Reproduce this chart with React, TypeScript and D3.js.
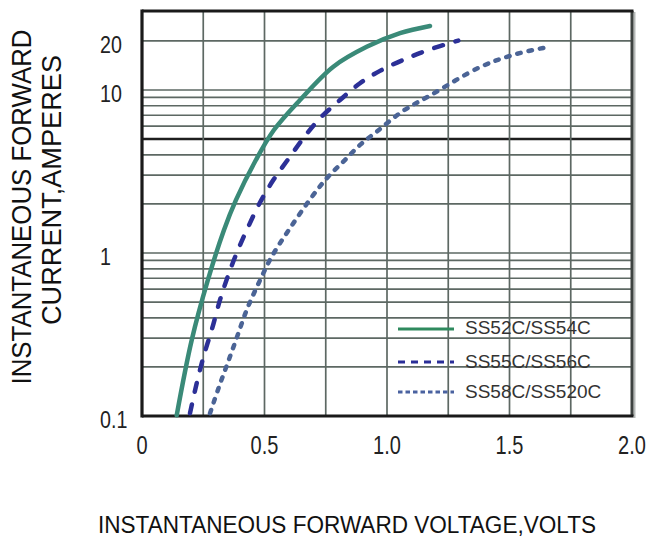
import React from "react";
import * as d3 from "d3";

// ---- data ----
const xTicks = [0, 0.5, 1.0, 1.5, 2.0];
const xTickLabels = ["0", "0.5", "1.0", "1.5", "2.0"];
const xGrid = [0.25, 0.5, 0.75, 1.0, 1.25, 1.5, 1.75];
const yTicks = [0.1, 1, 10, 20];
const yTickLabels = ["0.1", "1", "10", "20"];
const yGrid = [0.2, 0.3, 0.4, 0.5, 0.6, 0.7, 0.8, 0.9, 1, 2, 3, 4, 5, 6, 7, 8, 9, 10, 20];
const yGridBold = [5];

const seriesNames = ["SS52C/SS54C", "SS55C/SS56C", "SS58C/SS520C"];

// volts, amperes
const ss52V = [0.1416, 0.2029, 0.269, 0.3343, 0.3833, 0.4649, 0.5384, 0.6449, 0.7809, 0.9171, 1.0531, 1.1755];
const ss52I = [0.101, 0.292, 0.683, 1.38, 2.11, 3.72, 5.68, 8.68, 13.9, 18.4, 22.3, 24.7];

const ss55V = [0.1959, 0.2233, 0.2531, 0.2845, 0.3184, 0.3498, 0.3865, 0.4273, 0.4816, 0.5359, 0.6041, 0.6653, 0.7265, 0.8082, 0.8898, 0.9714, 1.0665, 1.1686, 1.291];
const ss55I = [0.104, 0.159, 0.237, 0.337, 0.515, 0.716, 1.0, 1.38, 2.04, 2.8, 3.9, 5.22, 6.7, 8.68, 11.0, 13.1, 15.3, 17.6, 20.1];

const ss58V = [0.2776, 0.3143, 0.351, 0.3878, 0.4273, 0.4755, 0.5294, 0.6041, 0.6992, 0.7592, 0.8216, 0.8898, 0.958, 1.0653, 1.1755, 1.3796, 1.5143, 1.6449];
const ss58I = [0.104, 0.151, 0.214, 0.305, 0.447, 0.65, 0.949, 1.42, 2.27, 2.93, 3.63, 4.6, 5.55, 7.43, 9.25, 13.8, 16.4, 18.2];

const FONT = "'Liberation Sans', Arial, sans-serif";

export default function App() {
  const left = 142, right = 632, top = 11, bottom = 416;
  const x = d3.scaleLinear().domain([0, 2]).range([left, right]);
  const y = d3.scaleLog().domain([0.1, 30]).range([bottom, 12.2]);

  const line = d3
    .line<[number, number]>()
    .x((d) => x(d[0]))
    .y((d) => y(d[1]))
    .curve(d3.curveCatmullRom.alpha(0.5));

  const zip = (a: number[], b: number[]) => a.map((v, i) => [v, b[i]] as [number, number]);

  const series = [
    { name: seriesNames[0], d: zip(ss52V, ss52I), color: "#3a8a78", legendColor: "#2f8a5e", dash: undefined, legendDash: undefined },
    { name: seriesNames[1], d: zip(ss55V, ss55I), color: "#2c3097", legendColor: "#2a2e98", dash: "9 13", legendDash: "7 6" },
    { name: seriesNames[2], d: zip(ss58V, ss58I), color: "#4b6496", legendColor: "#4a62a0", dash: "3.5 8", legendDash: "4.5 3" },
  ];

  const legendY = [329, 362, 392];
  const legendTextY = [334, 368, 398];

  return (
    <svg width={648} height={538} style={{ position: "absolute", left: 0, top: 0, background: "#fff" }}>
      <rect x={0} y={0} width={648} height={538} fill="#fff" />
      {/* horizontal grid */}
      {yGrid.map((v) => (
        <line
          key={"h" + v}
          x1={left}
          x2={right}
          y1={y(v)}
          y2={y(v)}
          stroke={yGridBold.includes(v) ? "#1e1e1e" : "#5d6863"}
          strokeWidth={yGridBold.includes(v) ? 2.6 : 1.7}
        />
      ))}
      {/* vertical grid */}
      {xGrid.map((v) => (
        <line key={"v" + v} x1={x(v)} x2={x(v)} y1={top} y2={bottom} stroke="#5d6863" strokeWidth={1.7} />
      ))}
      {/* frame */}
      <line x1={right + 2.5} x2={right + 2.5} y1={top + 1} y2={bottom + 2} stroke="#b5b9b7" strokeWidth={2} />
      <line x1={right} x2={right} y1={top} y2={bottom} stroke="#3e4341" strokeWidth={3} />
      <line x1={left} x2={right + 1.5} y1={top} y2={top} stroke="#1a1a1a" strokeWidth={3} />
      <line x1={left} x2={right + 1.5} y1={bottom} y2={bottom} stroke="#1a1a1a" strokeWidth={3} />
      <line x1={left} x2={left} y1={top - 1.5} y2={bottom + 1.5} stroke="#1a1a1a" strokeWidth={3.2} />

      {/* curves */}
      {series.map((s) => (
        <path
          key={s.name}
          d={line(s.d) || ""}
          fill="none"
          stroke={s.color}
          strokeWidth={4.5}
          strokeLinecap="round"
          strokeDasharray={s.dash}
        />
      ))}

      {/* legend */}
      {series.map((s, i) => (
        <g key={"lg" + i}>
          <line
            x1={398}
            x2={454}
            y1={legendY[i]}
            y2={legendY[i]}
            stroke={s.legendColor}
            strokeWidth={3}
            strokeDasharray={s.legendDash}
          />
          <text x={465} y={legendTextY[i]} fontFamily={FONT} fontSize={19} fill="#333">
            {s.name}
          </text>
        </g>
      ))}

      {/* x tick labels */}
      {xTicks.map((v, i) => (
        <text
          key={"xt" + v}
          transform={`translate(${x(v)},454) scale(0.8,1)`}
          textAnchor="middle"
          fontFamily={FONT}
          fontSize={25}
          fill="#222"
        >
          {xTickLabels[i]}
        </text>
      ))}
      {/* y tick labels */}
      {yTicks.map((v, i) => (
        <text
          key={"yt" + v}
          transform={`translate(100,${y(v) + 12}) scale(0.82,1)`}
          fontFamily={FONT}
          fontSize={24}
          fill="#222"
        >
          {yTickLabels[i]}
        </text>
      ))}

      {/* axis titles */}
      <text
        transform="translate(31,207) rotate(-90)"
        textAnchor="middle"
        fontFamily={FONT}
        fontSize={28}
        textLength={355}
        lengthAdjust="spacingAndGlyphs"
        fill="#111"
      >
        INSTANTANEOUS FORWARD
      </text>
      <text
        transform="translate(61,190) rotate(-90)"
        textAnchor="middle"
        fontFamily={FONT}
        fontSize={28}
        textLength={270}
        lengthAdjust="spacingAndGlyphs"
        fill="#111"
      >
        CURRENT,AMPERES
      </text>
      <text
        x={347}
        y={533}
        textAnchor="middle"
        fontFamily={FONT}
        fontSize={23}
        textLength={498}
        lengthAdjust="spacingAndGlyphs"
        fill="#111"
      >
        INSTANTANEOUS FORWARD VOLTAGE,VOLTS
      </text>
    </svg>
  );
}
